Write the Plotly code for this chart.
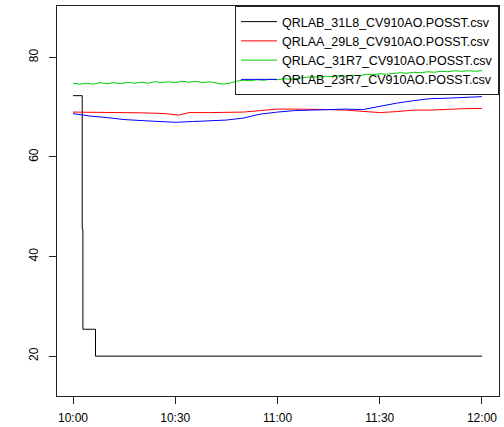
import pandas as pd
import plotly.graph_objects as go

series_names = [
    "QRLAB_31L8_CV910AO.POSST.csv",
    "QRLAA_29L8_CV910AO.POSST.csv",
    "QRLAC_31R7_CV910AO.POSST.csv",
    "QRLAB_23R7_CV910AO.POSST.csv",
]

# minutes after 10:00
black_min = [0, 2.7, 2.9, 6.6, 120]
black_val = [72.3, 45.5, 25.4, 20.0, 20.0]

red_min = [0, 5, 10, 15, 20, 25, 27, 31, 34, 40, 45, 50, 55, 60, 65, 70, 75, 80,
           85, 90, 95, 100, 105, 110, 115, 120]
red_val = [69.0, 69.0, 68.95, 69.0, 68.85, 68.75, 68.7, 68.4, 68.9, 68.9, 69.0,
           69.0, 69.3, 69.6, 69.6, 69.6, 69.5, 69.4, 69.1, 68.9, 69.1, 69.4,
           69.4, 69.6, 69.7, 69.75]

green_min = list(range(0, 121, 2))
green_val = [74.8, 74.6, 74.8, 74.6, 74.9, 74.7, 74.9, 74.7, 75.0, 74.8, 75.0,
             74.8, 75.1, 74.9, 75.1, 74.9, 75.2, 75.0, 75.2, 74.9, 75.1, 74.9,
             74.6, 74.8, 75.2, 75.4, 75.3, 75.5, 75.4, 75.6, 75.5, 75.7, 75.6,
             75.8, 75.9, 76.1, 76.0, 76.2, 76.1, 76.3, 76.2, 76.4, 76.3, 76.6,
             76.5, 76.7, 76.6, 76.8, 76.9, 76.8, 77.0, 76.9, 77.1, 77.0, 77.2,
             77.1, 77.3, 77.2, 77.3, 77.2, 77.3]

blue_min = [0, 5, 10, 15, 20, 25, 30, 35, 40, 45, 50, 55, 60, 65, 70, 75, 80,
            85, 90, 95, 100, 105, 110, 115, 120]
blue_val = [68.7, 68.2, 67.9, 67.5, 67.3, 67.05, 66.95, 67.1, 67.3, 67.4, 67.8,
            68.6, 69.0, 69.3, 69.4, 69.5, 69.6, 69.5, 70.2, 70.8, 71.3, 71.7,
            71.8, 72.0, 72.1]

colors = ["#000000", "#FF0000", "#00CD00", "#0000FF"]

base = pd.Timestamp("2020-01-01 10:00")


def to_time(mins):
    return [base + pd.Timedelta(minutes=m) for m in mins]


fig = go.Figure()
fig.add_trace(go.Scatter(x=to_time(black_min), y=black_val, mode="lines",
                         line=dict(color=colors[0], width=1, shape="hv"),
                         name=series_names[0]))
fig.add_trace(go.Scatter(x=to_time(red_min), y=red_val, mode="lines",
                         line=dict(color=colors[1], width=1),
                         name=series_names[1]))
fig.add_trace(go.Scatter(x=to_time(green_min), y=green_val, mode="lines",
                         line=dict(color=colors[2], width=1),
                         name=series_names[2]))
fig.add_trace(go.Scatter(x=to_time(blue_min), y=blue_val, mode="lines",
                         line=dict(color=colors[3], width=1),
                         name=series_names[3]))

font = "Liberation Sans, Arial, sans-serif"
fig.update_layout(
    width=504, height=427,
    margin=dict(l=57, r=5, t=6, b=31),
    paper_bgcolor="white", plot_bgcolor="white",
    font=dict(family=font, size=12, color="#000"),
    legend=dict(x=1, y=1, xanchor="right", yanchor="top",
                bgcolor="rgba(0,0,0,0)", bordercolor="#222", borderwidth=1,
                font=dict(size=12.5), tracegroupgap=0, itemwidth=36),
    xaxis=dict(
        range=[base + pd.Timedelta(minutes=-4.7), base + pd.Timedelta(minutes=125)],
        tickmode="array",
        tickvals=to_time([0, 30, 60, 90, 120]),
        ticktext=["10:00", "10:30", "11:00", "11:30", "12:00"],
        showgrid=False, zeroline=False, automargin=False,
        showline=True, linecolor="#222", linewidth=1, mirror=True,
        ticks="outside", ticklen=7, tickcolor="#222",
        tickfont=dict(size=12), ticklabelstandoff=4,
    ),
    yaxis=dict(
        range=[12.0, 90.3],
        tickvals=[20, 40, 60, 80],
        showgrid=False, zeroline=False, automargin=False,
        showline=True, linecolor="#222", linewidth=1, mirror=True,
        ticks="outside", ticklen=7, tickcolor="#222",
        tickangle=-90, tickfont=dict(size=12), ticklabelstandoff=6,
    ),
)

fig.write_html("out.html",
               config={"displayModeBar": False},
               post_script="document.body.style.margin='0';"
                           "document.body.style.overflow='hidden';")
